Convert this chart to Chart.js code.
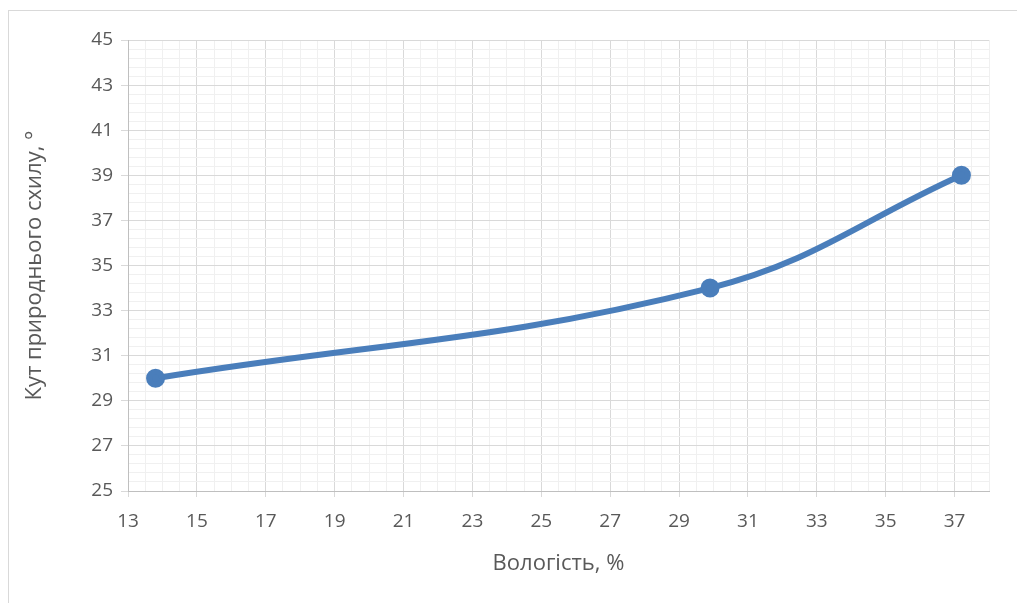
<!DOCTYPE html>
<html lang="uk">
<head>
<meta charset="UTF-8">
<title>Кут природнього схилу</title>
<script src="https://cdn.jsdelivr.net/npm/chart.js"></script>
<style>
  html, body { margin: 0; padding: 0; background: #fff; }
  #wrap { position: relative; width: 1017px; height: 603px; }
  #frame { position: absolute; left: 8px; top: 10px; width: 1020px; height: 600px; border: 1px solid #d9d9d9; box-sizing: border-box; }
  canvas { position: absolute; left: 0; top: 0; }
</style>
</head>
<body>
<div id="wrap">
  <div id="frame"></div>
  <canvas id="myChart" width="1017" height="603"></canvas>
</div>
<script>
  // data
  let moisture = [13.8, 29.9, 37.2];
  let angle = [30, 34, 39];
  let xTickLabels = [13, 15, 17, 19, 21, 23, 25, 27, 29, 31, 33, 35, 37];
  let yTickLabels = [25, 27, 29, 31, 33, 35, 37, 39, 41, 43, 45];

  let fontFamily = '"Open Sans", sans-serif';
  let majorColor = '#d9d9d9';
  let minorColor = '#f0f0f0';

  function isMajor(value, list) {
    return list.some(v => Math.abs(v - value) < 1e-6);
  }

  // major + minor grid positions
  function fillTicks(axis, min, max, step) {
    let ticks = [];
    let n = Math.round((max - min) / step);
    for (let i = 0; i <= n; i++) {
      ticks.push({ value: +(min + i * step).toFixed(4) });
    }
    axis.ticks = ticks;
  }

  let ctx = document.getElementById('myChart').getContext('2d');
  new Chart(ctx, {
    type: 'line',
    data: {
      datasets: [{
        data: moisture.map((x, i) => ({ x: x, y: angle[i] })),
        borderColor: '#4a7ebb',
        backgroundColor: '#4a7ebb',
        borderWidth: 6,
        pointRadius: 6.5,
        pointHoverRadius: 6.5,
        borderCapStyle: 'round',
        tension: 0.4,
        fill: false
      }]
    },
    options: {
      responsive: false,
      animation: false,
      layout: { padding: { left: 20, right: 28, top: 40, bottom: 24 } },
      plugins: { legend: { display: false }, tooltip: { enabled: false } },
      scales: {
        x: {
          type: 'linear',
          min: 13,
          max: 38,
          afterBuildTicks: axis => fillTicks(axis, 13, 38, 0.5),
          afterFit: axis => { axis.height = 88; },
          border: { color: '#bfbfbf', width: 1 },
          grid: {
            color: c => isMajor(c.tick.value, xTickLabels) ? majorColor : minorColor,
            tickColor: c => isMajor(c.tick.value, xTickLabels) ? majorColor : 'rgba(0,0,0,0)',
            tickLength: 6,
            lineWidth: 1
          },
          ticks: {
            autoSkip: false,
            maxRotation: 0,
            padding: 13,
            color: '#595959',
            font: { family: fontFamily, size: 19 },
            callback: v => isMajor(v, xTickLabels) ? String(Math.round(v)) : ''
          },
          title: {
            display: true,
            text: 'Вологість, %',
            color: '#595959',
            font: { family: fontFamily, size: 22 },
            padding: { top: 4, bottom: 2 }
          }
        },
        y: {
          type: 'linear',
          min: 25,
          max: 45,
          afterBuildTicks: axis => fillTicks(axis, 25, 45, 0.4),
          afterFit: axis => { axis.width = 108; },
          border: { color: '#bfbfbf', width: 1 },
          grid: {
            color: c => isMajor(c.tick.value, yTickLabels) ? majorColor : minorColor,
            tickColor: c => isMajor(c.tick.value, yTickLabels) ? majorColor : 'rgba(0,0,0,0)',
            tickLength: 7,
            lineWidth: 1
          },
          ticks: {
            autoSkip: false,
            padding: 8,
            color: '#595959',
            font: { family: fontFamily, size: 19 },
            callback: v => isMajor(v, yTickLabels) ? String(Math.round(v)) : ''
          },
          title: {
            display: true,
            text: 'Кут природнього схилу, °',
            color: '#595959',
            font: { family: fontFamily, size: 22 },
            padding: { top: 2, bottom: 4 }
          }
        }
      }
    }
  });
</script>
</body>
</html>
